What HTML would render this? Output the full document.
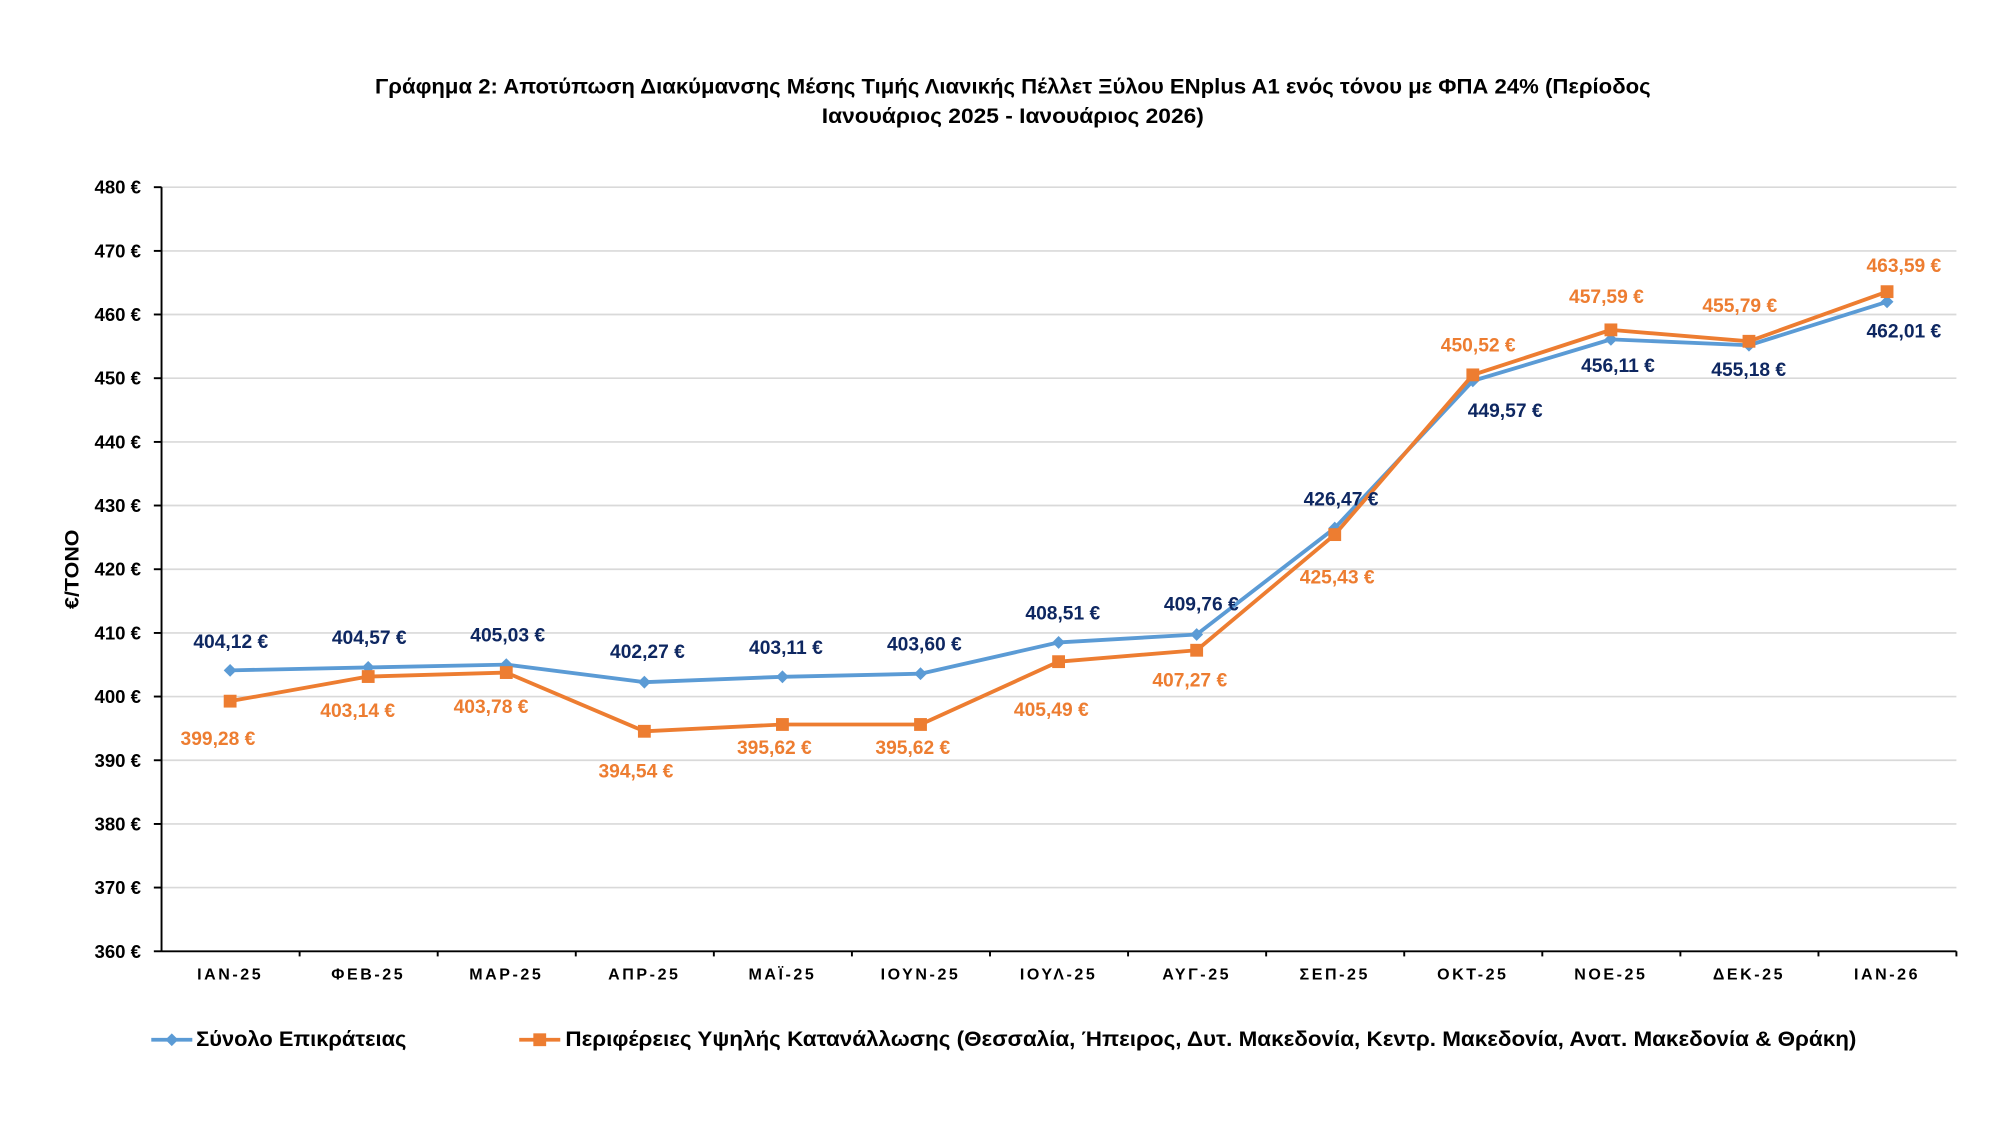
<!DOCTYPE html>
<html><head><meta charset="utf-8"><style>
html,body{margin:0;padding:0;background:#fff;}
svg{display:block;}
text{font-family:"Liberation Sans",sans-serif;font-weight:bold;}
.yt{font-size:14.5px;fill:#000;text-anchor:end;dominant-baseline:central;}
.xt{font-size:12.5px;fill:#000;text-anchor:middle;letter-spacing:2px;}
.bl{font-size:15px;fill:#0E2761;text-anchor:middle;dominant-baseline:central;}
.ol{font-size:15px;fill:#ED7D31;text-anchor:middle;dominant-baseline:central;}
</style></head><body>
<svg width="2000" height="1125" viewBox="0 0 1560 877.5" xmlns="http://www.w3.org/2000/svg">
<rect width="1560" height="877.5" fill="#fff"/>
<text x="790" y="68" text-anchor="middle" dominant-baseline="central" font-size="16.5" textLength="995" lengthAdjust="spacingAndGlyphs">Γράφημα 2: Αποτύπωση Διακύμανσης Μέσης Τιμής Λιανικής Πέλλετ Ξύλου ENplus A1 ενός τόνου με ΦΠΑ 24% (Περίοδος</text>
<text x="790" y="91" text-anchor="middle" dominant-baseline="central" font-size="16.5" textLength="298" lengthAdjust="spacingAndGlyphs">Ιανουάριος 2025 - Ιανουάριος 2026)</text>
<g stroke="#d9d9d9" stroke-width="1.3">
<line x1="126" x2="1526" y1="146" y2="146"/><line x1="126" x2="1526" y1="195.7" y2="195.7"/><line x1="126" x2="1526" y1="245.3" y2="245.3"/><line x1="126" x2="1526" y1="295" y2="295"/><line x1="126" x2="1526" y1="344.7" y2="344.7"/><line x1="126" x2="1526" y1="394.3" y2="394.3"/><line x1="126" x2="1526" y1="444" y2="444"/><line x1="126" x2="1526" y1="493.7" y2="493.7"/><line x1="126" x2="1526" y1="543.3" y2="543.3"/><line x1="126" x2="1526" y1="593" y2="593"/><line x1="126" x2="1526" y1="642.7" y2="642.7"/><line x1="126" x2="1526" y1="692.3" y2="692.3"/>
</g>
<g stroke="#000" stroke-width="1.5">
<line x1="126" x2="126" y1="146" y2="742"/><line x1="126" x2="1526" y1="742" y2="742"/>
<line x1="120" x2="126" y1="146" y2="146"/><line x1="120" x2="126" y1="195.7" y2="195.7"/><line x1="120" x2="126" y1="245.3" y2="245.3"/><line x1="120" x2="126" y1="295" y2="295"/><line x1="120" x2="126" y1="344.7" y2="344.7"/><line x1="120" x2="126" y1="394.3" y2="394.3"/><line x1="120" x2="126" y1="444" y2="444"/><line x1="120" x2="126" y1="493.7" y2="493.7"/><line x1="120" x2="126" y1="543.3" y2="543.3"/><line x1="120" x2="126" y1="593" y2="593"/><line x1="120" x2="126" y1="642.7" y2="642.7"/><line x1="120" x2="126" y1="692.3" y2="692.3"/><line x1="120" x2="126" y1="742" y2="742"/>
<line x1="233.7" x2="233.7" y1="742" y2="746"/><line x1="341.4" x2="341.4" y1="742" y2="746"/><line x1="449.1" x2="449.1" y1="742" y2="746"/><line x1="556.8" x2="556.8" y1="742" y2="746"/><line x1="664.5" x2="664.5" y1="742" y2="746"/><line x1="772.2" x2="772.2" y1="742" y2="746"/><line x1="879.9" x2="879.9" y1="742" y2="746"/><line x1="987.6" x2="987.6" y1="742" y2="746"/><line x1="1095.3" x2="1095.3" y1="742" y2="746"/><line x1="1203" x2="1203" y1="742" y2="746"/><line x1="1310.7" x2="1310.7" y1="742" y2="746"/><line x1="1418.4" x2="1418.4" y1="742" y2="746"/><line x1="1526" x2="1526" y1="742" y2="746"/>
</g>
<text class="yt" x="110" y="146">480 €</text><text class="yt" x="110" y="195.7">470 €</text><text class="yt" x="110" y="245.3">460 €</text><text class="yt" x="110" y="295">450 €</text><text class="yt" x="110" y="344.7">440 €</text><text class="yt" x="110" y="394.3">430 €</text><text class="yt" x="110" y="444">420 €</text><text class="yt" x="110" y="493.7">410 €</text><text class="yt" x="110" y="543.3">400 €</text><text class="yt" x="110" y="593">390 €</text><text class="yt" x="110" y="642.7">380 €</text><text class="yt" x="110" y="692.3">370 €</text><text class="yt" x="110" y="742">360 €</text>
<text x="57" y="444" transform="rotate(-90 57 444)" text-anchor="middle" dominant-baseline="central" font-size="15" textLength="62" lengthAdjust="spacingAndGlyphs">€/ΤΟΝΟ</text>
<text class="xt" x="179.5" y="764">ΙΑΝ-25</text><text class="xt" x="287.2" y="764">ΦΕΒ-25</text><text class="xt" x="394.9" y="764">ΜΑΡ-25</text><text class="xt" x="502.6" y="764">ΑΠΡ-25</text><text class="xt" x="610.3" y="764">ΜΑΪ-25</text><text class="xt" x="718" y="764">ΙΟΥΝ-25</text><text class="xt" x="825.7" y="764">ΙΟΥΛ-25</text><text class="xt" x="933.4" y="764">ΑΥΓ-25</text><text class="xt" x="1041.1" y="764">ΣΕΠ-25</text><text class="xt" x="1148.8" y="764">ΟΚΤ-25</text><text class="xt" x="1256.5" y="764">ΝΟΕ-25</text><text class="xt" x="1364.2" y="764">ΔΕΚ-25</text><text class="xt" x="1471.9" y="764">ΙΑΝ-26</text>
<polyline fill="none" stroke="#5B9BD5" stroke-width="3" stroke-linejoin="round" points="179.5,522.9 287.2,520.6 394.9,518.4 502.6,532.1 610.3,527.9 718,525.5 825.7,501.1 933.4,494.9 1041.1,411.9 1148.8,297.1 1256.5,264.7 1364.2,269.3 1471.9,235.4"/>
<g fill="#5B9BD5">
<path d="M179.5 517.9l5 5-5 5-5-5z"/><path d="M287.2 515.6l5 5-5 5-5-5z"/><path d="M394.9 513.4l5 5-5 5-5-5z"/><path d="M502.6 527.1l5 5-5 5-5-5z"/><path d="M610.3 522.9l5 5-5 5-5-5z"/><path d="M718 520.5l5 5-5 5-5-5z"/><path d="M825.7 496.1l5 5-5 5-5-5z"/><path d="M933.4 489.9l5 5-5 5-5-5z"/><path d="M1041.1 406.9l5 5-5 5-5-5z"/><path d="M1148.8 292.1l5 5-5 5-5-5z"/><path d="M1256.5 259.7l5 5-5 5-5-5z"/><path d="M1364.2 264.3l5 5-5 5-5-5z"/><path d="M1471.9 230.4l5 5-5 5-5-5z"/>
</g>
<polyline fill="none" stroke="#ED7D31" stroke-width="3" stroke-linejoin="round" points="179.5,546.9 287.2,527.7 394.9,524.6 502.6,570.4 610.3,565.1 718,565.1 825.7,516.1 933.4,507.2 1041.1,417 1148.8,292.4 1256.5,257.3 1364.2,266.2 1471.9,227.5"/>
<g fill="#ED7D31">
<rect x="174.5" y="541.9" width="10" height="10"/><rect x="282.2" y="522.7" width="10" height="10"/><rect x="389.9" y="519.6" width="10" height="10"/><rect x="497.6" y="565.4" width="10" height="10"/><rect x="605.3" y="560.1" width="10" height="10"/><rect x="713" y="560.1" width="10" height="10"/><rect x="820.7" y="511.1" width="10" height="10"/><rect x="928.4" y="502.2" width="10" height="10"/><rect x="1036.1" y="412" width="10" height="10"/><rect x="1143.8" y="287.4" width="10" height="10"/><rect x="1251.5" y="252.3" width="10" height="10"/><rect x="1359.2" y="261.2" width="10" height="10"/><rect x="1466.9" y="222.5" width="10" height="10"/>
</g>
<text class="bl" x="180" y="501">404,12 €</text><text class="bl" x="288" y="498">404,57 €</text><text class="bl" x="396" y="496">405,03 €</text><text class="bl" x="505" y="509">402,27 €</text><text class="bl" x="613" y="506">403,11 €</text><text class="bl" x="721" y="503">403,60 €</text><text class="bl" x="829" y="479">408,51 €</text><text class="bl" x="937" y="472">409,76 €</text><text class="bl" x="1046" y="390">426,47 €</text><text class="bl" x="1174" y="321">449,57 €</text><text class="bl" x="1262" y="286">456,11 €</text><text class="bl" x="1364" y="289">455,18 €</text><text class="bl" x="1485" y="259">462,01 €</text>
<text class="ol" x="170" y="577">399,28 €</text><text class="ol" x="279" y="555">403,14 €</text><text class="ol" x="383" y="552">403,78 €</text><text class="ol" x="496" y="602">394,54 €</text><text class="ol" x="604" y="584">395,62 €</text><text class="ol" x="712" y="584">395,62 €</text><text class="ol" x="820" y="554">405,49 €</text><text class="ol" x="928" y="531">407,27 €</text><text class="ol" x="1043" y="451">425,43 €</text><text class="ol" x="1153" y="270">450,52 €</text><text class="ol" x="1253" y="232">457,59 €</text><text class="ol" x="1357" y="239">455,79 €</text><text class="ol" x="1485" y="208">463,59 €</text>
<line x1="118" x2="150" y1="811" y2="811" stroke="#5B9BD5" stroke-width="3"/><path d="M134 806l5 5-5 5-5-5z" fill="#5B9BD5"/>
<text x="153" y="811" dominant-baseline="central" font-size="16.5" textLength="164" lengthAdjust="spacingAndGlyphs">Σύνολο Επικράτειας</text>
<line x1="405" x2="437" y1="811" y2="811" stroke="#ED7D31" stroke-width="3"/><rect x="416" y="806" width="10" height="10" fill="#ED7D31"/>
<text x="441" y="811" dominant-baseline="central" font-size="16.5" textLength="1007" lengthAdjust="spacingAndGlyphs">Περιφέρειες Υψηλής Κατανάλλωσης (Θεσσαλία, Ήπειρος, Δυτ. Μακεδονία, Κεντρ. Μακεδονία, Ανατ. Μακεδονία &amp; Θράκη)</text>
</svg>
</body></html>
